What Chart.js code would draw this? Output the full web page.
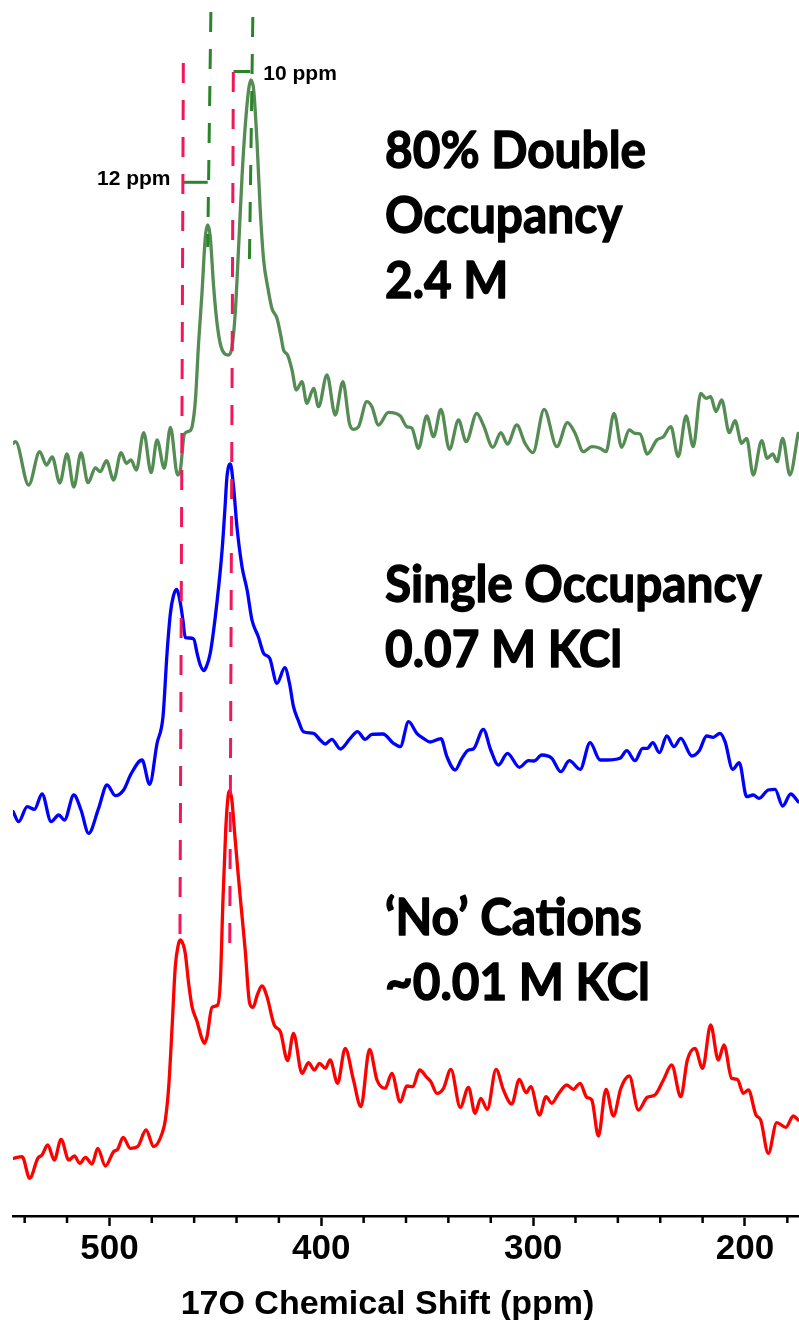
<!DOCTYPE html>
<html>
<head>
<meta charset="utf-8">
<title>17O NMR spectra</title>
<script src="https://cdn.jsdelivr.net/npm/chart.js@4.4.1/dist/chart.umd.min.js"></script>
<style>
  html, body { margin: 0; padding: 0; background: #fff; }
  canvas { display: block; }
</style>
</head>
<body>
<canvas id="spectra" width="799" height="1320"></canvas>
<script>
// Chemical shift (ppm) and intensity (a.u., relative to each trace's own baseline)

// 80% double occupancy, 2.4 M
const doublePpm = [545.4, 544.3, 538.1, 532.9, 529.7, 527.0, 523.4, 520.0, 516.8, 513.4,
  510.1, 506.6, 504.3, 501.4, 498.0, 494.5, 492.0, 489.8, 487.3, 483.8,
  480.3, 477.5, 474.1, 471.2, 467.8, 466.5, 464.6, 462.1, 460.9, 459.4,
  457.9, 456.3, 454.7, 453.6, 452.4, 450.8, 449.2, 447.3, 443.7, 442.1,
  440.6, 439.0, 437.4, 435.9, 434.3, 433.2, 431.9, 430.3, 428.8, 427.2,
  425.3, 423.3, 420.9, 419.0, 417.8, 415.9, 413.8, 411.8, 409.1, 406.8,
  403.6, 401.3, 397.3, 393.4, 389.8, 386.7, 384.8, 382.4, 378.5, 376.1,
  373.0, 368.3, 362.7, 359.6, 357.2, 354.1, 350.2, 347.0, 343.5, 339.5,
  335.2, 331.6, 326.6, 323.5, 319.0, 315.2, 312.1, 307.7, 303.8, 300.1,
  294.8, 288.8, 283.8, 280.2, 276.3, 272.3, 268.4, 265.6, 261.8, 258.2,
  254.6, 251.9, 249.5, 246.1, 241.6, 238.5, 235.0, 231.5, 227.8, 224.4,
  220.9, 218.4, 216.2, 213.7, 211.0, 207.4, 204.7, 201.6, 199.2, 196.1,
  192.1, 189.5, 186.9, 184.8, 182.2, 178.8, 174.9];
const doubleInt = [26.7, 28.3, -15, 18.3, 5, 13, -13, 16, -17, 17,
  -12.7, 2, -1.7, 9.3, -10, 17.3, 6.7, 10, 0, 37.3,
  -2.7, 30, 1.7, 42.7, -5, 0, 36, 39, 44, 70,
  127, 177, 233.3, 245, 233.3, 183.3, 147, 123.3, 115, 123.3,
  157, 223.3, 293.3, 343.3, 380, 390, 380, 327, 260, 210,
  183.3, 161.7, 151.7, 133.3, 120, 115, 100, 80, 88.3, 66.7,
  81.7, 63.3, 95, 55, 88.3, 46.7, 40.7, 43.3, 68.3, 63.3,
  45, 57.7, 54, 43.3, 41.7, 21.7, 54, 33.3, 60.7, 20.7,
  50, 28.3, 56.7, 45, 22.7, 37.3, 26, 45, 26.7, 17.3,
  60.7, 23.3, 47.3, 36.7, 18.3, 23.3, 21.7, 18.3, 56.7, 22.7,
  40, 36.7, 36, 16, 30, 33.3, 43.3, 13.3, 54, 23.3,
  76.7, 71.7, 73.3, 58.3, 70, 37.3, 49.3, 26.7, 31.7, -5,
  29.3, 11.7, 16, 8.3, 31.7, -5, 36.7];

// Single occupancy, 0.07 M KCl
const singlePpm = [545.4, 542.8, 538.8, 535.4, 531.8, 527.5, 523.9, 521.2, 516.8, 513.4,
  509.8, 505.1, 501.1, 497.2, 493.3, 489.8, 484.6, 481.0, 477.5, 474.7,
  472.8, 471.2, 469.8, 468.3, 466.5, 465.3, 464.2, 462.3, 460.2, 458.6,
  457.1, 455.5, 454.3, 452.4, 449.2, 446.8, 445.5, 444.5, 442.9, 441.4,
  439.8, 437.4, 435.0, 432.7, 429.7, 427.2, 424.4, 420.9, 417.2, 415.0,
  413.1, 410.9, 408.4, 403.6, 400.5, 398.1, 395.0, 391.0, 386.3, 382.9,
  379.3, 376.1, 370.9, 365.9, 362.7, 358.8, 354.9, 351.8, 348.6, 343.5,
  340.7, 336.8, 333.6, 330.5, 328.2, 323.5, 320.0, 316.4, 312.1, 306.5,
  302.2, 299.5, 295.9, 291.2, 286.9, 282.9, 277.8, 273.1, 268.4, 265.2,
  259.0, 255.8, 251.9, 248.3, 246.1, 243.5, 240.4, 236.9, 233.5, 230.3,
  225.1, 221.6, 218.1, 215.0, 211.8, 209.4, 205.8, 202.7, 199.2, 196.1,
  193.3, 189.0, 185.8, 182.2, 178.4, 174.9];
const singleInt = [3.3, -6.7, 8.3, 5.7, 21, -6.7, 0, -5, 20, 5,
  -18.3, 6.7, 30, 19.3, 25, 41, 55, 30.7, 71.7, 98.3,
  161.7, 201.7, 219, 225.7, 211.7, 195, 177.5, 177, 176, 161.7,
  150, 144.5, 148, 161.7, 213.3, 265, 305, 338.3, 351, 328.3,
  288.3, 248.3, 225, 195, 178.3, 161.7, 157, 131.7, 147.3, 131.7,
  108.3, 95, 83.3, 81.7, 75, 71, 75.7, 66, 76.7, 83.3,
  75.7, 80.7, 81, 71.7, 68.3, 93.3, 81.7, 76.7, 73, 76.3,
  58.3, 45, 56.7, 65, 66, 85.7, 65, 50, 61.7, 47.7,
  54.3, 54, 60, 56.7, 43.3, 54.3, 45.7, 72.3, 55, 55,
  56.7, 64.3, 54.3, 66.7, 66.7, 72.3, 62.3, 79, 68.3, 76.7,
  59, 64.3, 79, 77.7, 81.7, 73.3, 45.7, 52.3, 18.3, 20,
  16.7, 25, 25.7, 9, 21, 13.3];

// 'No' cations, ~0.01 M KCl
const noCatPpm = [545.4, 541.2, 537.6, 533.8, 531.8, 529.1, 526.0, 522.8, 519.2, 516.5,
  514.0, 511.3, 508.2, 505.5, 501.9, 498.0, 496.1, 493.5, 490.1, 486.7,
  482.7, 479.1, 475.1, 473.6, 472.0, 470.4, 468.9, 467.5, 466.5, 465.1,
  464.2, 462.6, 461.0, 458.6, 456.6, 455.2, 453.9, 451.6, 448.9, 447.6,
  446.4, 445.1, 443.9, 443.2, 442.2, 440.8, 439.4, 438.2, 435.9, 433.8,
  432.2, 430.2, 428.0, 425.6, 422.2, 419.3, 415.9, 413.1, 409.1, 406.0,
  403.3, 400.8, 398.1, 395.8, 392.3, 388.7, 384.8, 381.3, 377.2, 373.7,
  369.8, 366.7, 362.7, 359.6, 356.8, 353.6, 350.2, 348.3, 345.4, 342.3,
  338.8, 334.4, 330.5, 327.4, 324.7, 321.6, 317.5, 314.0, 310.1, 306.5,
  303.3, 301.1, 297.0, 293.9, 291.2, 288.1, 284.1, 281.0, 277.8, 274.7,
  272.3, 269.2, 265.6, 262.1, 258.6, 254.6, 250.3, 246.1, 242.5, 238.5,
  234.6, 230.3, 227.2, 223.6, 220.0, 216.2, 212.6, 209.9, 206.3, 203.6,
  200.8, 198.4, 194.8, 192.6, 189.0, 185.0, 180.7, 177.2, 174.9];
const noCatInt = [1.7, 3.3, -18.3, 1.7, 5, 15, 0, 20.7, 0, 4,
  -3.3, 2.7, -4, 11.7, -6, 8.3, 10.7, 22.7, 11.7, 13.3,
  30, 13.3, 26.7, 40, 73.3, 133.3, 193.3, 215, 220, 215,
  206.7, 176.7, 153.3, 138.3, 123, 116.7, 123.3, 152.7, 155, 180,
  260, 330, 365, 369, 360, 325, 290, 262, 210, 156.7,
  152.7, 165, 174, 163.3, 135, 128.3, 99.3, 126.7, 86.7, 97.3,
  90, 96.7, 91.7, 100, 76.7, 111.7, 80, 53.3, 110.7, 80,
  71.7, 86.7, 58, 74, 73.3, 90, 82.7, 78.3, 66.7, 71.7,
  90.7, 52.7, 72.7, 46.7, 61.7, 50.7, 90.7, 70, 56, 80.7,
  67.3, 73.3, 45, 63.3, 56.7, 66, 75, 70.7, 76.7, 62.7,
  60, 24, 70.7, 44, 71.7, 84, 50, 62.7, 65, 80,
  95, 63.3, 100, 111.7, 91.7, 135, 100, 115, 81.7, 80.7,
  66.7, 70, 45, 40, 6.7, 37.3, 32.7, 44, 40];

// Vertical stacking of the three traces (a.u.)
const traceOffsets = [746, 401, 56];

// Peak guides: [ppm at top, ppm at bottom] and [intensity at top, at bottom]
const redPeakGuidePpm = [[465.1, 466.7], [441.5, 443.2]];
const redPeakGuideY = [[1153, 276], [1144, 264]];
const doublePeakGuidePpm = [[452.1, 453.6], [432.3, 433.9]];
const doublePeakGuideY = [[1204, 969], [1199, 956]];

// Shift brackets between guides
const splitPpm = [[465.0, 453.6], [441.4, 433.5]];
const splitY = [1033.7, 1144.5];
const splitLabels = ['12 ppm', '10 ppm'];

// Axis
const majorTicks = [500, 400, 300, 200];
const minorTicks = [540, 520, 480, 460, 440, 420, 380, 360, 340, 320, 280, 260, 240, 220, 180];
const axisTitle = '17O Chemical Shift (ppm)';

// Sample captions
const sampleLabels = [
  ['80% Double', 'Occupancy', '2.4 M'],
  ['Single Occupancy', '0.07 M KCl'],
  ['\u2018No\u2019 Cations', '~0.01 M KCl']
];

const traceColors = ['#548c54', '#0000ff', '#ff0000'];
const redGuideColor = '#f2175b';
const greenGuideColor = '#2a852a';

function traceDataset(ppm, ints, offset, color) {
  return {
    data: ppm.map((p, i) => ({ x: p, y: ints[i] + offset })),
    borderColor: color,
    borderWidth: 3.3,
    borderJoinStyle: 'round',
    borderCapStyle: 'round',
    pointRadius: 0,
    fill: false,
    cubicInterpolationMode: 'monotone',
    order: 2
  };
}

function guideDataset(ppmPair, yPair, color) {
  return {
    data: [{ x: ppmPair[0], y: yPair[0] }, { x: ppmPair[1], y: yPair[1] }],
    borderColor: color,
    borderWidth: 3,
    borderDash: [20, 17],
    pointRadius: 0,
    fill: false,
    tension: 0,
    order: 1
  };
}

function bracketDataset(ppmPair, yv, color) {
  return {
    data: [{ x: ppmPair[0], y: yv }, { x: ppmPair[1], y: yv }],
    borderColor: color,
    borderWidth: 3,
    pointRadius: 0,
    fill: false,
    tension: 0,
    order: 1
  };
}

const datasets = [
  traceDataset(doublePpm, doubleInt, traceOffsets[0], traceColors[0]),
  traceDataset(singlePpm, singleInt, traceOffsets[1], traceColors[1]),
  traceDataset(noCatPpm, noCatInt, traceOffsets[2], traceColors[2]),
  ...redPeakGuidePpm.map((p, i) => guideDataset(p, redPeakGuideY[i], redGuideColor)),
  ...doublePeakGuidePpm.map((p, i) => guideDataset(p, doublePeakGuideY[i], greenGuideColor)),
  ...splitPpm.map((p, i) => bracketDataset(p, splitY[i], greenGuideColor))
];

const SANS = '"Liberation Sans", Arial, Helvetica, sans-serif';

// Minor ticks, axis title, bracket labels and sample captions
const decorations = {
  id: 'decorations',
  afterDraw(chart) {
    const { ctx } = chart;
    const x = chart.scales.x;
    const y = chart.scales.y;
    ctx.save();

    ctx.strokeStyle = '#000';
    ctx.lineWidth = 2.5;
    minorTicks.forEach(v => {
      const px = x.getPixelForValue(v);
      ctx.beginPath();
      ctx.moveTo(px, x.top);
      ctx.lineTo(px, x.top + 7);
      ctx.stroke();
    });

    ctx.fillStyle = '#000';
    ctx.textBaseline = 'alphabetic';
    ctx.font = 'bold 34px ' + SANS;
    ctx.textAlign = 'center';
    ctx.fillText(axisTitle, 387.5, 1314);

    ctx.font = 'bold 21px ' + SANS;
    ctx.textAlign = 'right';
    ctx.fillText(splitLabels[0], x.getPixelForValue(splitPpm[0][0]) - 13, y.getPixelForValue(splitY[0]) + 3);
    ctx.textAlign = 'left';
    ctx.fillText(splitLabels[1], x.getPixelForValue(splitPpm[1][1]) + 13, y.getPixelForValue(splitY[1]) + 8.5);

    // heavy captions: bold face plus a thin outline of the same colour
    ctx.font = 'bold 51px Lato, "Open Sans", sans-serif';
    ctx.lineWidth = 1.4;
    ctx.lineJoin = 'round';
    const squeeze = 261 / ctx.measureText(sampleLabels[0][0]).width;
    const firstBaselines = [168, 602, 935];
    sampleLabels.forEach((lines, k) => {
      lines.forEach((t, j) => {
        ctx.save();
        ctx.translate(385, firstBaselines[k] + j * 65);
        ctx.scale(squeeze, 1);
        ctx.fillText(t, 0, 0);
        ctx.strokeText(t, 0, 0);
        ctx.restore();
      });
    });

    ctx.restore();
  }
};

new Chart(document.getElementById('spectra'), {
  type: 'line',
  data: { datasets },
  plugins: [decorations],
  options: {
    responsive: false,
    animation: false,
    devicePixelRatio: 1,
    layout: { padding: { left: 13, right: 0, top: 0, bottom: 0 } },
    plugins: { legend: { display: false }, tooltip: { enabled: false } },
    scales: {
      x: {
        type: 'linear',
        reverse: true,
        min: 174.5,
        max: 545.5,
        position: 'bottom',
        afterBuildTicks: s => { s.ticks = majorTicks.map(v => ({ value: v })); },
        afterFit: s => { s.height = 104; },
        grid: { drawOnChartArea: false, drawTicks: true, tickLength: 10, tickWidth: 2.5, tickColor: '#000' },
        border: { display: true, color: '#000', width: 2.5 },
        ticks: {
          color: '#000',
          padding: 2,
          maxRotation: 0,
          autoSkip: false,
          font: { family: SANS, size: 35, weight: 'bold' },
          callback: v => String(v)
        }
      },
      y: { type: 'linear', display: false, min: 0, max: 1216 }
    }
  }
});
</script>
</body>
</html>
